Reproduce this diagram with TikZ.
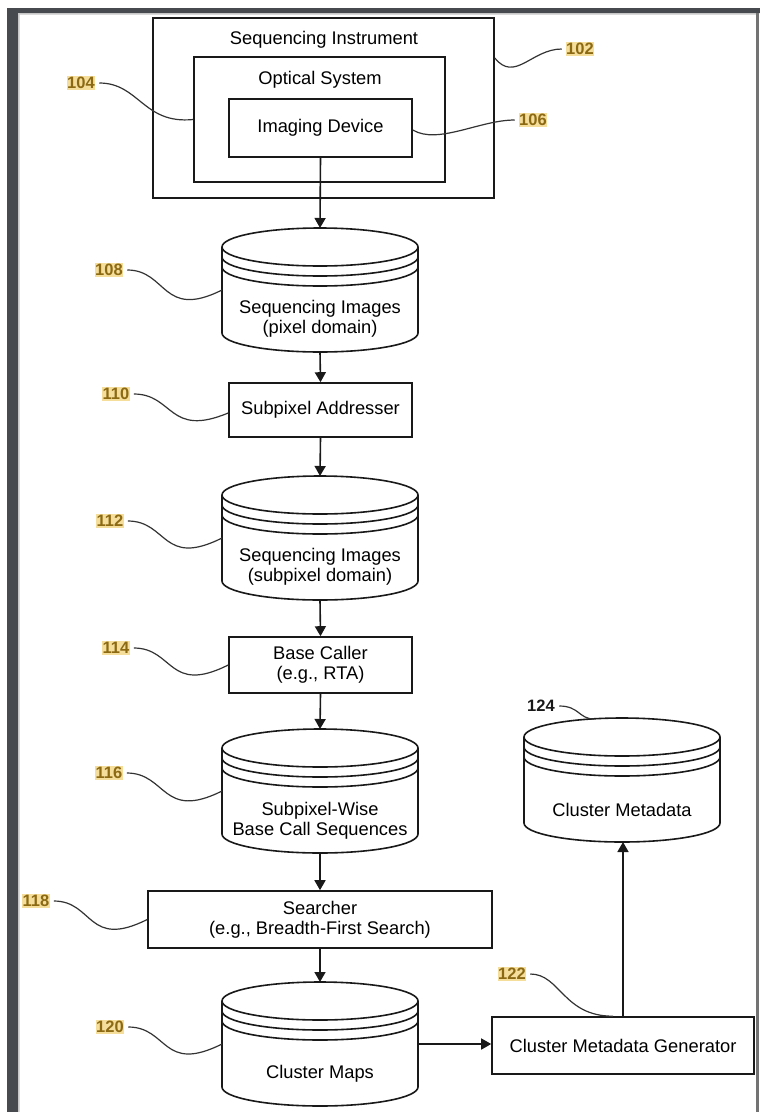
\documentclass[tikz,border=0pt]{standalone}
\usepackage{fontspec}
\setmainfont{Liberation Sans}
\usetikzlibrary{arrows.meta}
\definecolor{framegrey}{HTML}{474B4F}
\definecolor{refgold}{HTML}{8C6A14}
\definecolor{refhl}{HTML}{F5DE9C}
\tikzset{
	box/.style={draw=black!90, line width=1.6pt, fill=white, inner sep=0pt},
	rim/.style={draw=black!90, line width=1.6pt},
	store/.style={inner sep=0pt, outer sep=0pt, minimum width=196pt, minimum height=124pt},
	txt/.style={font=\fontsize{18.3}{20}\selectfont, text=black, align=center},
	flow/.style={line width=1.6pt, draw=black!90, -{Triangle[length=10pt,width=11pt]}},
	lead/.style={line width=1.2pt, draw=black!80},
	refno/.style={font=\fontsize{16.5}{16.5}\selectfont\bfseries, text=refgold, fill=refhl, inner xsep=0.5pt, inner ysep=1pt, outer sep=4pt},
}
\newcommand{\drum}[1]{% cylinder outline round store node #1
	\draw[rim] ([yshift=-19pt]#1.north west) -- ([yshift=19pt]#1.south west) arc (180:360:98pt and 19pt) -- ([yshift=-19pt]#1.north east) arc (0:180:98pt and 19pt) -- cycle;
	\foreach \d in {19pt,29pt,39pt} {\draw[rim] ([yshift=-\d]#1.north west) arc (180:360:98pt and 19pt);}
}

\begin{document}
\begin{tikzpicture}[x=1pt, y=-1pt]
\useasboundingbox (0,0) rectangle (760,1112);
\fill[white] (0,0) rectangle (760,1112);
\fill[framegrey] (7,8) rectangle (760,13) (7,8) rectangle (18,1112); % viewer frame
\fill[black!22] (18,13) rectangle (19.5,1112) (18,13) rectangle (756,14.5);
\fill[black!55] (756,13) rectangle (758.5,1112);

% instrument
\node[box, minimum width=341pt, minimum height=180pt] (instr) at (323.5,108) {};
\node[txt] (instr-lbl) at (324,40) {Sequencing Instrument};
\node[box, minimum width=251pt, minimum height=125pt] (optic) at (319.5,119.5) {};
\node[txt] (optic-lbl) at (320,80) {Optical System};
\node[box, txt, minimum width=183pt, minimum height=58pt] (imager) at (320.5,128) {Imaging Device};

% pipeline
\node[store] (pix) at (320,290) {}; \drum{pix}
\node[txt] (pix-lbl) at ([yshift=-29pt]pix.center) {Sequencing Images\\(pixel domain)};
\node[box, txt, minimum width=183pt, minimum height=54pt] (addr) at (320.5,410) {Subpixel Addresser};
\node[store] (sub) at (320,538) {}; \drum{sub}
\node[txt] (sub-lbl) at ([yshift=-29pt]sub.center) {Sequencing Images\\(subpixel domain)};
\node[box, txt, minimum width=183pt, minimum height=56pt] (caller) at (320.5,665) {Base Caller\\(e.g., RTA)};
\node[store] (calls) at (320,791) {}; \drum{calls}
\node[txt] (calls-lbl) at ([yshift=-30pt]calls.center) {Subpixel-Wise\\Base Call Sequences};
\node[box, txt, minimum width=344pt, minimum height=57pt] (search) at (320,919.5) {Searcher\\(e.g., Breadth-First Search)};
\node[store] (maps) at (320,1044) {}; \drum{maps}
\node[txt] (maps-lbl) at ([yshift=-30pt]maps.center) {Cluster Maps};
\node[box, txt, minimum width=262pt, minimum height=57pt] (gen) at (623,1045.5) {Cluster Metadata Generator};
\node[store] (meta) at (622,780) {}; \drum{meta}
\node[txt] (meta-lbl) at ([yshift=-30pt]meta.center) {Cluster Metadata};

\draw[flow] (imager.south) -- (pix.north);
\draw[flow] (pix.south) -- (addr.north);
\draw[flow] (addr.south) -- (sub.north);
\draw[flow] (sub.south) -- (caller.north);
\draw[flow] (caller.south) -- (calls.north);
\draw[flow] (calls.south) -- (search.north);
\draw[flow] (search.south) -- (maps.north);
\draw[flow] (maps.east) -- (maps.east -| gen.west);
\draw[flow] (gen.north) -- (gen.north |- meta.south);

% reference numerals
\node[refno] (n102) at (580,49) {102};
\node[refno] (n104) at (81,83) {104};
\node[refno] (n106) at (533,120) {106};
\node[refno] (n108) at (109,270) {108};
\node[refno] (n110) at (116,394) {110};
\node[refno] (n112) at (110,521) {112};
\node[refno] (n114) at (116,648) {114};
\node[refno] (n116) at (109,773) {116};
\node[refno] (n118) at (36,901) {118};
\node[refno] (n120) at (110,1027) {120};
\node[refno] (n122) at (512,974) {122};
\node[refno, fill=none, text=black!90] (n124) at (541,706) {124};

\draw[lead] (n102.west) .. controls +(-30,0) and +(20,25) .. ([yshift=50pt]instr.east);
\draw[lead] (n104.east) .. controls +(40,0) and +(-50,5) .. (optic.west);
\draw[lead] (n106.west) .. controls +(-35,0) and +(25,15) .. ([yshift=-2pt]imager.east);
\draw[lead] (n108.east) .. controls +(40,0) and +(-60,30) .. (pix.west);
\draw[lead] (n110.east) .. controls +(40,0) and +(-60,25) .. ([yshift=-3pt]addr.west);
\draw[lead] (n112.east) .. controls +(40,0) and +(-60,30) .. (sub.west);
\draw[lead] (n114.east) .. controls +(40,0) and +(-60,30) .. (caller.west);
\draw[lead] (n116.east) .. controls +(40,0) and +(-60,30) .. (calls.west);
\draw[lead] (n118.east) .. controls +(40,0) and +(-60,30) .. (search.west);
\draw[lead] (n120.east) .. controls +(40,0) and +(-60,30) .. (maps.west);
\draw[lead] (n122.east) .. controls +(30,0) and +(-50,0) .. ([xshift=-10pt]gen.north);
\draw[lead] (n124.east) .. controls +(20,0) and +(-15,0) .. ([xshift=-28pt,yshift=-1pt]meta.north);
\end{tikzpicture}
\end{document}
